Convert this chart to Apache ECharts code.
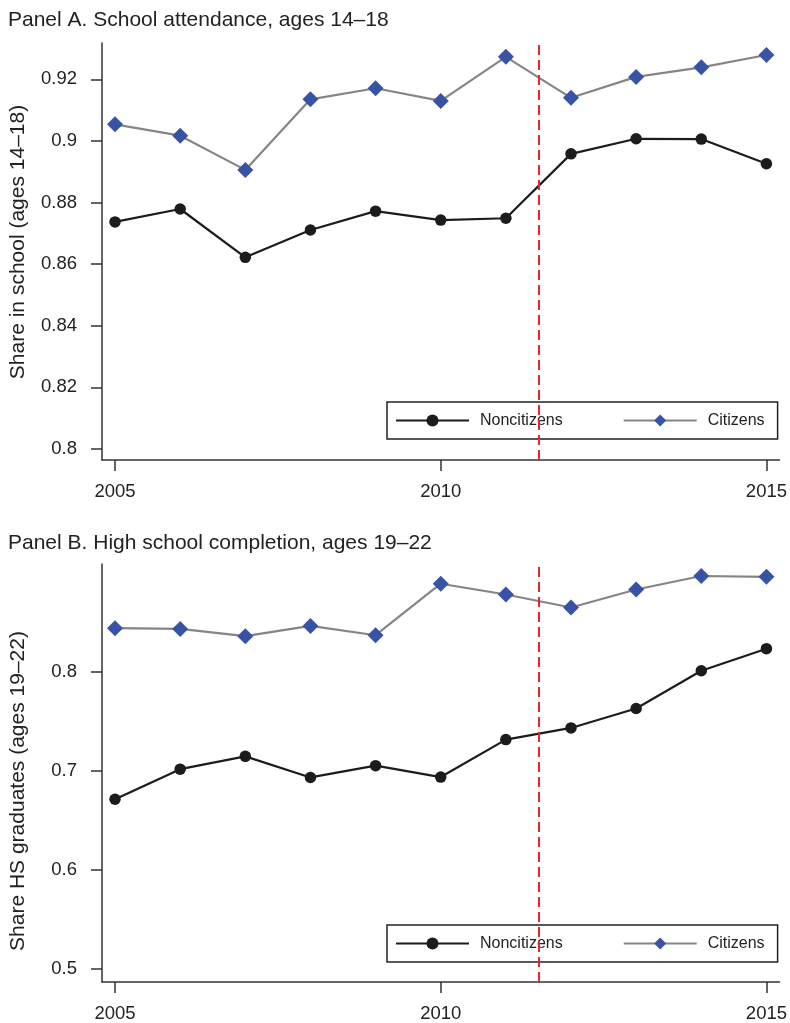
<!DOCTYPE html>
<html>
<head>
<meta charset="utf-8">
<script src="https://cdn.jsdelivr.net/npm/echarts@6/dist/echarts.min.js"></script>
<style>
  html, body { margin: 0; padding: 0; background: #fff; }
  #chart { width: 790px; height: 1023px; }
</style>
</head>
<body>
<div id="chart"></div>
<script>
// Survey years on the horizontal axis
const years = [2005, 2006, 2007, 2008, 2009, 2010, 2011, 2012, 2013, 2014, 2015];

// Panel A: share enrolled in school, ages 14–18
const noncitizensA = [0.8737, 0.8779, 0.8622, 0.8711, 0.8772, 0.8743, 0.8749, 0.8958, 0.9007, 0.9006, 0.8926];
const citizensA    = [0.9054, 0.9017, 0.8906, 0.9135, 0.9171, 0.9130, 0.9273, 0.9140, 0.9208, 0.9239, 0.9279];

// Panel B: share high school graduates, ages 19–22
const noncitizensB = [0.6716, 0.7020, 0.7149, 0.6936, 0.7055, 0.6940, 0.7318, 0.7436, 0.7632, 0.8013, 0.8236];
const citizensB    = [0.8443, 0.8436, 0.8362, 0.8466, 0.8372, 0.8892, 0.8783, 0.8652, 0.8834, 0.8970, 0.8962];

// Policy change marker (between 2011 and 2012)
const policyYear = 2011.5;

// Tick positions
const xTicks  = [2005, 2010, 2015];
const yTicksA = [0.8, 0.82, 0.84, 0.86, 0.88, 0.9, 0.92];
const yTicksB = [0.5, 0.6, 0.7, 0.8];

const titles = ['Panel A. School attendance, ages 14–18', 'Panel B. High school completion, ages 19–22'];
const yNames = ['Share in school (ages 14–18)', 'Share HS graduates (ages 19–22)'];

const FONT = "'Liberation Sans', Arial, Helvetica, sans-serif";
const TXT = '#222';
const AX = '#333';

const pairs = arr => years.map((y, i) => [y, arr[i]]);
const fmt = v => String(Number(v.toFixed(2)));

function xAxis(gi) {
  return {
    gridIndex: gi, type: 'value', min: 2004.8, max: 2015.2,
    axisLine: { show: true, onZero: false, lineStyle: { color: AX, width: 1.5 } },
    axisTick: { show: true, customValues: xTicks, length: 11, lineStyle: { color: AX, width: 1.5 } },
    axisLabel: { customValues: xTicks, margin: 22, color: TXT, fontSize: 18.5, fontFamily: FONT, formatter: v => String(v) },
    splitLine: { show: false }
  };
}
function yAxis(gi, min, max, ticks) {
  return {
    gridIndex: gi, type: 'value', min, max,
    axisLine: { show: true, onZero: false, lineStyle: { color: AX, width: 1.5 } },
    axisTick: { show: true, customValues: ticks, length: 11, lineStyle: { color: AX, width: 1.5 } },
    axisLabel: { customValues: ticks, margin: 25, color: TXT, fontSize: 18.5, fontFamily: FONT, formatter: fmt },
    splitLine: { show: false }
  };
}
function nonSeries(gi, data) {
  return {
    name: 'Noncitizens', type: 'line', xAxisIndex: gi, yAxisIndex: gi, data: pairs(data),
    symbol: 'circle', symbolSize: 11.5, z: 3,
    lineStyle: { color: '#1c1c1c', width: 2.2 },
    itemStyle: { color: '#1c1c1c' },
    emphasis: { disabled: true },
    // vertical dashed line marking the policy change
    markLine: {
      silent: true, symbol: 'none', label: { show: false },
      lineStyle: { color: '#e5262e', width: 2, type: [10, 5] },
      data: [{ xAxis: policyYear }]
    }
  };
}
function citSeries(gi, data) {
  return {
    name: 'Citizens', type: 'line', xAxisIndex: gi, yAxisIndex: gi, data: pairs(data),
    symbol: 'diamond', symbolSize: 16, z: 3,
    lineStyle: { color: '#858585', width: 2.2 },
    itemStyle: { color: '#3953a4' },
    emphasis: { disabled: true }
  };
}
function legend(top) {
  return {
    left: 387, top, width: 387,
    orient: 'horizontal', selectedMode: false,
    itemWidth: 73, itemHeight: 15, itemGap: 60,
    padding: [10.5, 13, 10.5, 8],
    borderColor: '#222', borderWidth: 1.5,
    textStyle: { color: TXT, fontSize: 16, fontFamily: FONT, padding: [0, 0, 0, 6] },
    data: ['Noncitizens', 'Citizens']
  };
}
function text(str, x, y, rotate) {
  return {
    type: 'text', x, y, rotation: rotate ? Math.PI / 2 : 0, silent: true,
    style: {
      text: str, fill: TXT, fontSize: 21, fontFamily: FONT,
      align: rotate ? 'center' : 'left', verticalAlign: 'middle'
    }
  };
}

const chart = echarts.init(document.getElementById('chart'), null, { renderer: 'canvas' });
chart.setOption({
  animation: false,
  backgroundColor: '#fff',
  graphic: [
    text(titles[0], 8, 20, false),
    text(titles[1], 8, 543, false),
    text(yNames[0], 18, 242, true),
    text(yNames[1], 18, 791, true)
  ],
  grid: [
    { left: 102, top: 43, width: 680, height: 417 },
    { left: 102, top: 564, width: 680, height: 418 }
  ],
  xAxis: [xAxis(0), xAxis(1)],
  yAxis: [
    yAxis(0, 0.7964, 0.9318, yTicksA),
    yAxis(1, 0.4871, 0.9091, yTicksB)
  ],
  legend: [legend(402), legend(925)],
  series: [
    nonSeries(0, noncitizensA), citSeries(0, citizensA),
    nonSeries(1, noncitizensB), citSeries(1, citizensB)
  ]
});
</script>
</body>
</html>
